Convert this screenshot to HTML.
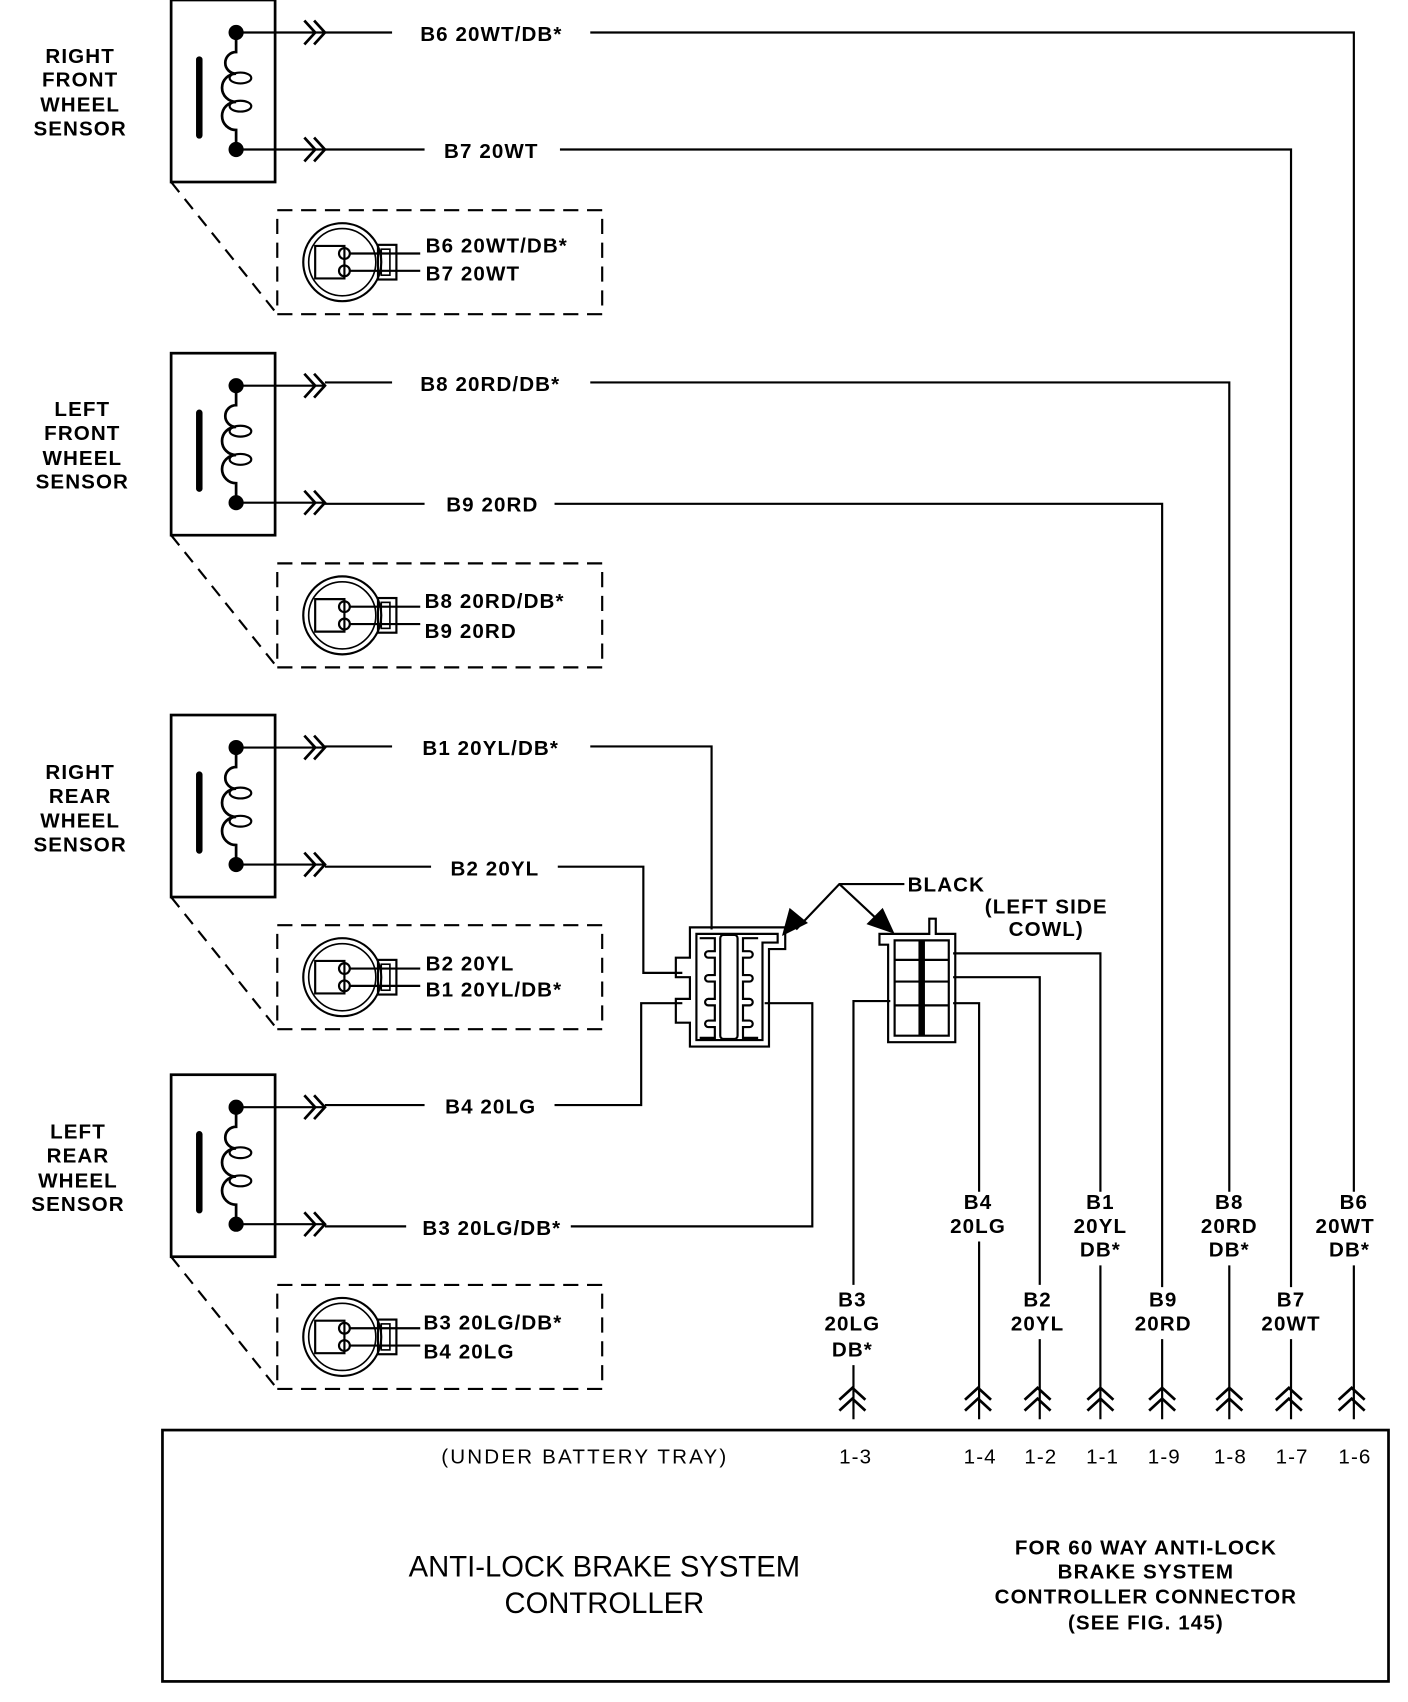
<!DOCTYPE html>
<html><head><meta charset="utf-8"><style>
html,body{margin:0;padding:0;background:#fff}
svg{display:block}
text{font-family:"Liberation Sans",sans-serif;font-weight:bold;font-size:19px;letter-spacing:1px;fill:#000}
.n{font-weight:normal}
</style></head><body>
<svg width="1408" height="1702" viewBox="0 0 1300 1571" preserveAspectRatio="none" xmlns="http://www.w3.org/2000/svg">
<defs>
<g id="sensor" stroke="#000" fill="none" stroke-width="2.5">
  <rect x="158" y="0" width="96" height="168"/>
  <line x1="184" y1="55" x2="184" y2="125" stroke-width="6" stroke-linecap="round"/>
  <circle cx="218" cy="30" r="7" fill="#000" stroke="none"/>
  <circle cx="218" cy="138" r="7" fill="#000" stroke="none"/>
  <path d="M218 30 V48 A10 10 0 0 0 218 68 A10 10 0 0 0 218 94 A10 10 0 0 0 218 120 V138" />
  <ellipse cx="222" cy="72" rx="10" ry="5" stroke-width="2"/>
  <ellipse cx="222" cy="98" rx="10" ry="5" stroke-width="2"/>
  <line x1="218" y1="30" x2="300" y2="30" stroke-width="2"/>
  <line x1="218" y1="138" x2="300" y2="138" stroke-width="2"/>
  <path d="M281 19 L291 30 L281 41 M290 19 L300 30 L290 41" stroke-width="2.5"/>
  <path d="M281 127 L291 138 L281 149 M290 127 L300 138 L290 149" stroke-width="2.5"/>
  <line x1="158" y1="168" x2="256" y2="290" stroke-dasharray="12 8" stroke-width="2"/>
  <rect x="256" y="194" width="300" height="96" stroke-dasharray="14 8" stroke-width="2"/>
  <circle cx="316" cy="242" r="36" stroke-width="2"/>
  <circle cx="316" cy="242" r="31" stroke-width="1.5"/>
  <path d="M291 227 H318 V257 H291 Z" stroke-width="2"/>
  <circle cx="318" cy="234" r="5" stroke-width="2"/>
  <circle cx="318" cy="250" r="5" stroke-width="2"/>
  <rect x="349" y="226" width="17" height="32" stroke-width="2"/>
  <rect x="352" y="230" width="8" height="24" stroke-width="1.5"/>
  <line x1="323" y1="234" x2="388" y2="234" stroke-width="2"/>
  <line x1="323" y1="250" x2="388" y2="250" stroke-width="2"/>
</g>
<g id="up" stroke="#000" fill="none" stroke-width="2.5">
  <path d="M-12 1292 L0 1281 L12 1292 M-12 1302 L0 1291 L12 1302"/>
</g>
</defs>

<use href="#sensor"/>
<use href="#sensor" transform="translate(0,326)"/>
<use href="#sensor" transform="translate(0,660)"/>
<use href="#sensor" transform="translate(0,992)"/>

<g text-anchor="middle">
<text x="74" y="58">RIGHT</text><text x="74" y="80">FRONT</text><text x="74" y="103">WHEEL</text><text x="74" y="125">SENSOR</text>
<text x="76" y="384">LEFT</text><text x="76" y="406">FRONT</text><text x="76" y="429">WHEEL</text><text x="76" y="451">SENSOR</text>
<text x="74" y="719">RIGHT</text><text x="74" y="741">REAR</text><text x="74" y="764">WHEEL</text><text x="74" y="786">SENSOR</text>
<text x="72" y="1051">LEFT</text><text x="72" y="1073">REAR</text><text x="72" y="1096">WHEEL</text><text x="72" y="1118">SENSOR</text>
</g>

<g>
<text x="393" y="233">B6 20WT/DB*</text><text x="393" y="259">B7 20WT</text>
<text x="392" y="561">B8 20RD/DB*</text><text x="392" y="589">B9 20RD</text>
<text x="393" y="896">B2 20YL</text><text x="393" y="920">B1 20YL/DB*</text>
<text x="391" y="1227">B3 20LG/DB*</text><text x="391" y="1254">B4 20LG</text>
</g>

<g stroke="#000" fill="none" stroke-width="2">
<path d="M300 30 H362 M300 138 H392 M300 353 H362 M300 465 H392 M300 689 H362 M300 800 H398 M300 1020 H392 M300 1132 H375"/>
<path d="M545 30 H1250 V1100 M1250 1168 V1310"/>
<path d="M517 138 H1192 V1188 M1192 1236 V1310"/>
<path d="M545 353 H1135 V1100 M1135 1168 V1310"/>
<path d="M512 465 H1073 V1188 M1073 1236 V1310"/>
<path d="M545 689 H657 V858"/>
<path d="M515 800 H594 V898 H630"/>
<path d="M512 1020 H592 V926 H630"/>
<path d="M527 1132 H750 V926 H706"/>
<path d="M880 880 H1016 V1100 M1016 1168 V1310"/>
<path d="M880 902 H960 V1186 M960 1236 V1310"/>
<path d="M880 926 H904 V1100 M904 1146 V1310"/>
<path d="M822 924 H788 V1186 M788 1260 V1310"/>
<path d="M637 856 H725 V876 H710 V966 H637 V944 H624 V922 H637 V902 H624 V884 H637 Z"/>
<path d="M643 862 H718 V870 H704 V960 H643 Z"/>
<rect x="665" y="863" width="16" height="96" rx="3"/>
<path d="M646 866 H660 V878 H654 A3 3 0 0 0 654 884 H660 V900 H654 A3 3 0 0 0 654 906 H660 V922 H654 A3 3 0 0 0 654 928 H660 V942 H654 A3 3 0 0 0 654 948 H660 V958 H646"/>
<path d="M700 866 H686 V878 H692 A3 3 0 0 1 692 884 H686 V900 H692 A3 3 0 0 1 692 906 H686 V922 H692 A3 3 0 0 1 692 928 H686 V942 H692 A3 3 0 0 1 692 948 H686 V958 H700"/>
<path d="M812 862 H858 V848 H864 V862 H882 V962 H820 V872 H812 Z"/>
<path d="M826 868 H876 V956 H826 Z"/>
<line x1="851" y1="868" x2="851" y2="956" stroke-width="6"/>
<path d="M826 886 H876 M826 906 H876 M826 928 H876" stroke-width="2"/>
<path d="M835 816 H775 L735 858 M775 816 L820 858"/>
</g>
<polygon points="722,864 729,838 746,852" fill="#000"/>
<polygon points="826,862 800,853 815,838" fill="#000"/>

<text x="838" y="823">BLACK</text>
<text x="966" y="843" text-anchor="middle">(LEFT SIDE</text>
<text x="966" y="864" text-anchor="middle">COWL)</text>

<text x="388" y="38">B6 20WT/DB*</text>
<text x="410" y="146">B7 20WT</text>
<text x="388" y="361">B8 20RD/DB*</text>
<text x="412" y="472">B9 20RD</text>
<text x="390" y="697">B1 20YL/DB*</text>
<text x="416" y="808">B2 20YL</text>
<text x="411" y="1028">B4 20LG</text>
<text x="390" y="1140">B3 20LG/DB*</text>

<g text-anchor="middle">
<text x="903" y="1116">B4</text><text x="903" y="1138">20LG</text>
<text x="1016" y="1116">B1</text><text x="1016" y="1138">20YL</text><text x="1016" y="1160">DB*</text>
<text x="1135" y="1116">B8</text><text x="1135" y="1138">20RD</text><text x="1135" y="1160">DB*</text>
<text x="1250" y="1116">B6</text><text x="1242" y="1138">20WT</text><text x="1246" y="1160">DB*</text>
<text x="787" y="1206">B3</text><text x="787" y="1228">20LG</text><text x="787" y="1252">DB*</text>
<text x="958" y="1206">B2</text><text x="958" y="1228">20YL</text>
<text x="1074" y="1206">B9</text><text x="1074" y="1228">20RD</text>
<text x="1192" y="1206">B7</text><text x="1192" y="1228">20WT</text>
</g>

<use href="#up" transform="translate(787,0)"/>
<use href="#up" transform="translate(903,0)"/>
<use href="#up" transform="translate(958,0)"/>
<use href="#up" transform="translate(1016,0)"/>
<use href="#up" transform="translate(1073,0)"/>
<use href="#up" transform="translate(1135,0)"/>
<use href="#up" transform="translate(1190,0)"/>
<use href="#up" transform="translate(1248,0)"/>

<rect x="150" y="1320" width="1132" height="232" stroke="#000" fill="none" stroke-width="2.5"/>
<g text-anchor="middle">
<text x="540" y="1351" class="n" style="letter-spacing:2px">(UNDER BATTERY TRAY)</text>
<text x="790" y="1351" class="n">1-3</text>
<text x="905" y="1351" class="n">1-4</text>
<text x="961" y="1351" class="n">1-2</text>
<text x="1018" y="1351" class="n">1-1</text>
<text x="1075" y="1351" class="n">1-9</text>
<text x="1136" y="1351" class="n">1-8</text>
<text x="1193" y="1351" class="n">1-7</text>
<text x="1251" y="1351" class="n">1-6</text>
<text x="558" y="1455" class="n" style="font-size:27px;letter-spacing:0">ANTI-LOCK BRAKE SYSTEM</text>
<text x="558" y="1489" class="n" style="font-size:27px;letter-spacing:0">CONTROLLER</text>
<text x="1058" y="1435">FOR 60 WAY ANTI-LOCK</text>
<text x="1058" y="1457">BRAKE SYSTEM</text>
<text x="1058" y="1480">CONTROLLER CONNECTOR</text>
<text x="1058" y="1504">(SEE FIG. 145)</text>
</g>
</svg>
</body></html>
